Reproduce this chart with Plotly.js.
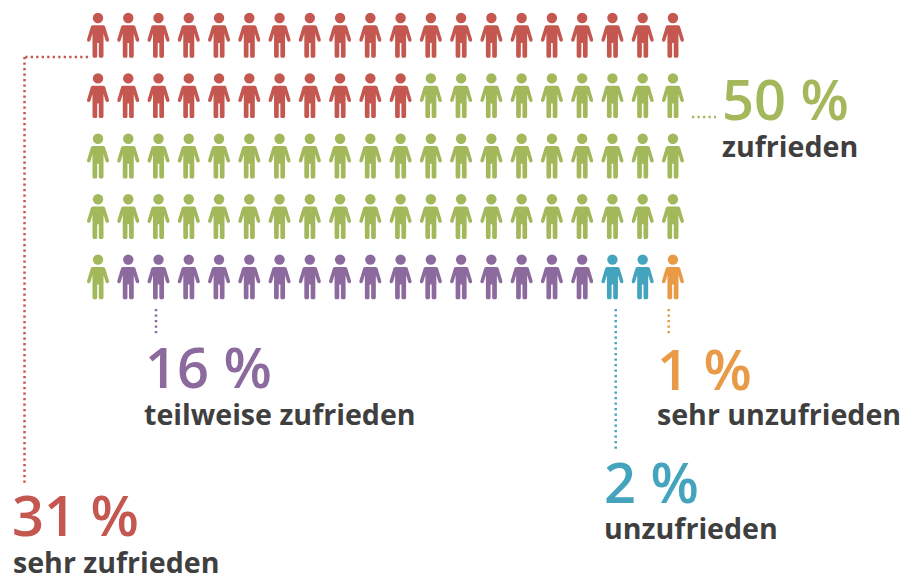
<!DOCTYPE html>
<html>
<head>
<meta charset="utf-8">
<script src="https://cdn.plot.ly/plotly-3.0.1.min.js"></script>
<style>html,body{margin:0;padding:0;background:#fff}#c{width:920px;height:576px}</style>
</head>
<body>
<div id="c"></div>
<script>
// Data
const categories = ["sehr zufrieden", "zufrieden", "teilweise zufrieden", "unzufrieden", "sehr unzufrieden"];
const percents = [31, 50, 16, 2, 1];
const columnsPerRow = 20;

// Styles
const colors = ["#c4574f", "#a2b85b", "#8c6a9e", "#45a4bd", "#e99a47"];
const textDark = "#3f3f3f";
const W = 920, H = 576;
const colPx = 30.26, rowPx = 60.4, col0Px = 98, row0Px = 13;

// Person outline in px relative to the top-centre of the figure (head drawn as a marker)
const body = [[-5.5,12.3],[5.5,12.3],[7,13.2],[11,26.5],[10.6,28.4],[8.8,28.7],[7.6,27.6],[5.5,20.5],[5.5,43.3],[4.6,44.7],[1.7,44.7],[0.8,43.5],[0.8,30],[-0.8,30],[-0.8,43.5],[-1.7,44.7],[-4.6,44.7],[-5.5,43.3],[-5.5,20.5],[-7.6,27.6],[-8.8,28.7],[-10.6,28.4],[-11,26.5],[-7,13.2]];

// Axes: x = column index, y = row index (row top = integer)
const xRange = [-col0Px/colPx, (W-col0Px)/colPx];
const yRange = [(H-row0Px)/rowPx, -row0Px/rowPx];

const traces = [];
let idx = 0;
percents.forEach((p, c) => {
  const bx = [], by = [], hx = [], hy = [];
  for (let i = 0; i < p; i++, idx++) {
    const col = idx % columnsPerRow, row = Math.floor(idx / columnsPerRow);
    body.forEach(b => { bx.push(col + b[0]/colPx); by.push(row + b[1]/rowPx); });
    bx.push(col + body[0][0]/colPx); by.push(row + body[0][1]/rowPx);
    bx.push(null); by.push(null);
    hx.push(col); hy.push(row + 5/rowPx);
  }
  traces.push({type:"scatter", mode:"lines", x:bx, y:by, fill:"toself", fillcolor:colors[c],
    line:{width:0, color:colors[c]}, hoverinfo:"skip", name:categories[c], showlegend:false});
  traces.push({type:"scatter", mode:"markers", x:hx, y:hy, marker:{symbol:"circle", size:10.4, color:colors[c], line:{width:0}},
    hoverinfo:"name", name:categories[c], showlegend:false});
});

const px = v => v/W, py = v => 1 - v/H;
const leaders = [
  [0, [[88,57],[24.5,57],[24.5,484]]],
  [1, [[692,117],[716,117]]],
  [2, [[156,309],[156,334]]],
  [3, [[615.7,309],[615.7,449]]],
  [4, [[668.7,309],[668.7,335]]]
];
const shapes = [];
leaders.forEach(([c, pts]) => {
  for (let i = 0; i < pts.length-1; i++) {
    shapes.push({type:"line", xref:"paper", yref:"paper",
      x0:px(pts[i][0]), y0:py(pts[i][1]), x1:px(pts[i+1][0]), y1:py(pts[i+1][1]),
      line:{color:colors[c], width:2.5, dash:"2.3px,3.2px"}});
  }
});

const font = "'Open Sans', sans-serif";
// [category, pct text left x, pct text centre y, label left x, label centre y]
const textPos = [
  [0, 11, 514, 12, 561],
  [1, 721, 98, 721, 145],
  [2, 144, 366, 143, 413],
  [3, 603, 481, 603, 527],
  [4, 656, 368, 656, 413]
];
const annotations = [];
textPos.forEach(([c, xp, yp, xl, yl]) => {
  annotations.push({xref:"paper", yref:"paper", x:px(xp), y:py(yp), xanchor:"left", yanchor:"middle",
    showarrow:false, borderpad:0, text:percents[c]+" %", font:{family:font, size:56, color:colors[c], weight:600}});
  annotations.push({xref:"paper", yref:"paper", x:px(xl), y:py(yl), xanchor:"left", yanchor:"middle",
    showarrow:false, borderpad:0, text:categories[c], font:{family:font, size:28.6, color:textDark, weight:700}});
});

Plotly.newPlot("c", traces, {
  width:W, height:H, margin:{l:0,r:0,t:0,b:0,pad:0},
  paper_bgcolor:"#fff", plot_bgcolor:"#fff", showlegend:false,
  xaxis:{range:xRange, visible:false, fixedrange:true},
  yaxis:{range:yRange, visible:false, fixedrange:true},
  shapes, annotations
}, {displayModeBar:false, staticPlot:true});
</script>
</body>
</html>
